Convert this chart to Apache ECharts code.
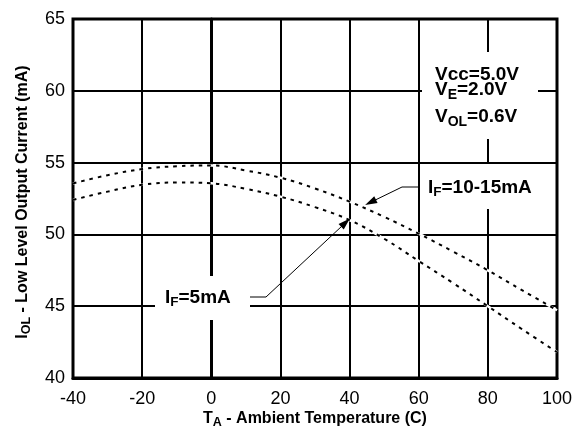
<!DOCTYPE html>
<html>
<head>
<meta charset="utf-8">
<script src="https://cdn.jsdelivr.net/npm/echarts@6/dist/echarts.min.js"></script>
<style>
  html, body { margin: 0; padding: 0; background: #fff; }
  #chart { width: 583px; height: 429px; }
</style>
</head>
<body>
<div id="chart"></div>
<script>
// Ambient temperature (C) and low level output current (mA) for two forward currents
const temperatures = [-40, -30, -20, -10, 0, 10, 20, 30, 40, 50, 60, 70, 80, 90, 100];
const iolIf10to15 = [53.55, 54.12, 54.55, 54.75, 54.8, 54.45, 53.95, 53.2, 52.28, 51.22, 50.05, 48.8, 47.5, 46.1, 44.72];
const iolIf5 = [52.4, 52.98, 53.45, 53.62, 53.56, 53.17, 52.63, 51.9, 51.0, 49.7, 48.15, 46.6, 45.0, 43.38, 41.8];
const xTickValues = [-40, -20, 0, 20, 40, 60, 80, 100];
const yTickValues = [40, 45, 50, 55, 60, 65];

const FONT = 'Arial, "Liberation Sans", Helvetica, sans-serif';

const chart = echarts.init(document.getElementById('chart'), null, { renderer: 'canvas' });

function pairs(ys) { return temperatures.map((t, i) => [t, ys[i]]); }

// White halo under each dashed curve so grid lines are broken where curves cross
function haloSeries(ys) {
  return {
    type: 'line', data: pairs(ys), smooth: 0.4, showSymbol: false, silent: true,
    lineStyle: { color: '#fff', width: 2.5, type: 'solid' }, z: 2
  };
}
function curveSeries(name, ys) {
  return {
    name: name, type: 'line', data: pairs(ys), smooth: 0.4, showSymbol: false, silent: true,
    lineStyle: { color: '#000', width: 2, type: [3.5, 5] }, z: 3
  };
}

chart.setOption({
  animation: false,
  backgroundColor: '#fff',
  grid: { left: 73, right: 26, top: 19, bottom: 51, show: true, borderColor: '#000', borderWidth: 3, backgroundColor: 'transparent' },
  xAxis: {
    type: 'value',
    min: xTickValues[0], max: xTickValues[xTickValues.length - 1], interval: xTickValues[1] - xTickValues[0],
    axisLine: { show: true, lineStyle: { color: '#000', width: 3 } },
    axisTick: { show: false },
    splitLine: { show: true, lineStyle: { color: '#000', width: 2 } },
    axisLabel: { color: '#000', fontSize: 18, fontFamily: FONT, margin: 12 }
  },
  yAxis: {
    type: 'value',
    min: yTickValues[0], max: yTickValues[yTickValues.length - 1], interval: yTickValues[1] - yTickValues[0],
    axisLine: { show: true, lineStyle: { color: '#000', width: 3 } },
    axisTick: { show: false },
    splitLine: { show: true, lineStyle: { color: '#000', width: 2 } },
    axisLabel: { color: '#000', fontSize: 18, fontFamily: FONT, margin: 8 }
  },
  series: [
    haloSeries(iolIf10to15),
    haloSeries(iolIf5),
    curveSeries('IF=10-15mA', iolIf10to15),
    curveSeries('IF=5mA', iolIf5)
  ]
});

// Rich text styles with subscripts
function richStyles(size, subSize, lh, shift) {
  return {
    m: { fontSize: size, fontWeight: 'bold', fontFamily: FONT, color: '#000', lineHeight: lh },
    s: { fontSize: subSize, fontWeight: 'bold', fontFamily: FONT, color: '#000', lineHeight: lh, padding: [shift * 2, 0, 0, 0] }
  };
}
function richText(x, y, text, rich, align, rotation) {
  return {
    type: 'text', x: x, y: y, z: 20, silent: true, rotation: rotation || 0,
    style: { text: text, rich: rich, align: align || 'left', verticalAlign: 'middle' }
  };
}
function whiteBox(x, y, w, h) {
  return { type: 'rect', z: 15, silent: true, shape: { x: x, y: y, width: w, height: h }, style: { fill: '#fff' } };
}
function leader(points) {
  const n = points.length;
  const tip = points[n - 1], from = points[n - 2];
  const dx = tip[0] - from[0], dy = tip[1] - from[1];
  const len = Math.hypot(dx, dy);
  const ux = dx / len, uy = dy / len;
  const L = 12, W = 3.8;
  const bx = tip[0] - ux * L, by = tip[1] - uy * L;
  return [
    { type: 'polyline', z: 18, silent: true, shape: { points: points.slice(0, n - 1).concat([[bx + ux * 2, by + uy * 2]]) }, style: { stroke: '#000', lineWidth: 1, fill: null } },
    { type: 'polygon', z: 19, silent: true, shape: { points: [tip, [bx - uy * W, by + ux * W], [bx + uy * W, by - ux * W]] }, style: { fill: '#000' } }
  ];
}

const toPx = (p) => chart.convertToPixel({ gridIndex: 0 }, p);
const tipUpper = toPx([44.5, 52.05]);
const tipLower = toPx([40.1, 51.1]);

const annRich = richStyles(19, 13.5, 22, 4.5);
const condRich = richStyles(19, 14, 22, 5.5);
const titleRich = richStyles(16, 12.5, 19, 4);

chart.setOption({
  graphic: [
    // supply conditions
    whiteBox(422, 52, 116, 87),
    richText(435, 75, '{m|Vcc=5.0V}', condRich),
    richText(435, 90, '{m|V}{s|E}{m|=2.0V}', condRich),
    richText(435, 116.5, '{m|V}{s|OL}{m|=0.6V}', condRich),
    // curve labels
    whiteBox(421, 164, 124, 45),
    richText(428, 187.5, '{m|I}{s|F}{m|=10-15mA}', annRich),
    whiteBox(155, 276, 95, 44),
    richText(165, 297.5, '{m|I}{s|F}{m|=5mA}', annRich),
    ...leader([[420, 187], [402, 187], tipUpper]),
    ...leader([[250, 297], [266, 297], tipLower]),
    // axis titles
    richText(315, 418.5, '{m|T}{s|A}{m| - Ambient Temperature (C)}', titleRich, 'center'),
    richText(23, 202, '{m|I}{s|OL}{m| - Low Level Output Current (mA)}', titleRich, 'center', Math.PI / 2)
  ]
});
</script>
</body>
</html>
